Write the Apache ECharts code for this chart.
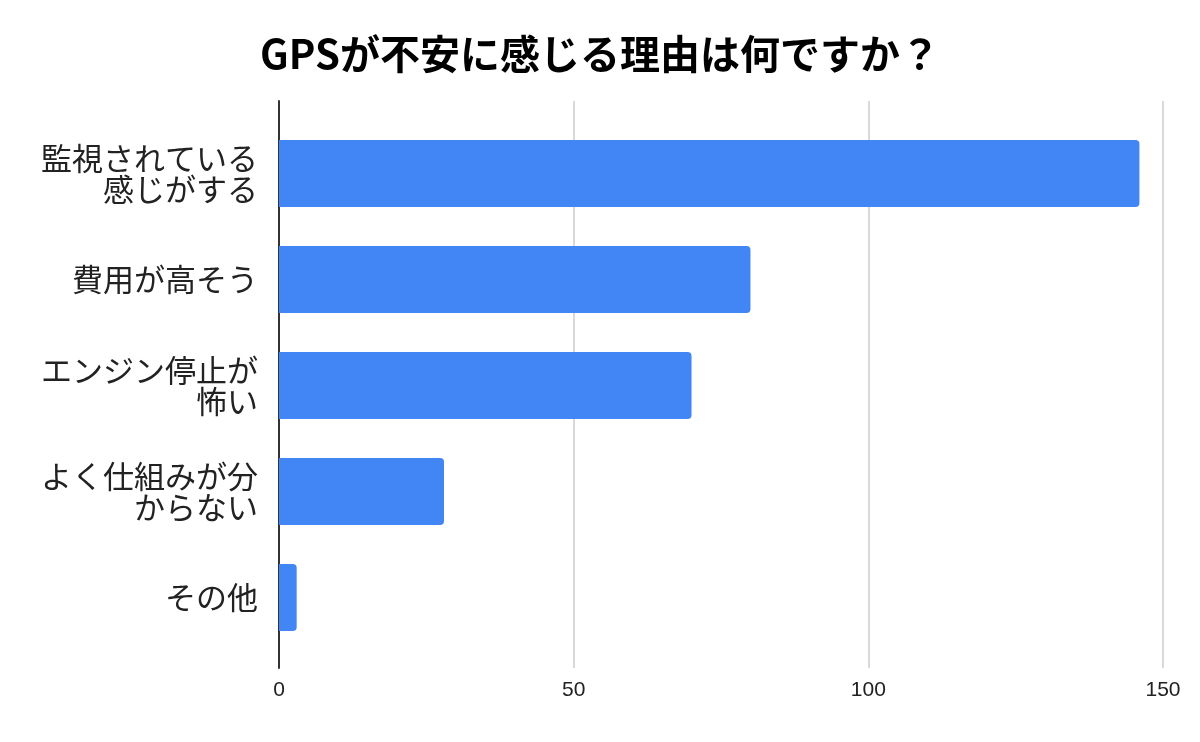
<!DOCTYPE html>
<html>
<head>
<meta charset="utf-8">
<script src="https://cdn.jsdelivr.net/npm/echarts@6/dist/echarts.min.js"></script>
<style>html,body{margin:0;padding:0;background:#fff}#c{width:1200px;height:742px}</style>
</head>
<body>
<div id="c"></div>
<script>
const titleText = 'GPSが不安に感じる理由は何ですか？';
const categories = ['監視されている\n感じがする', '費用が高そう', 'エンジン停止が\n怖い', 'よく仕組みが分\nからない', 'その他'];
const values = [146, 80, 70, 28, 3];
const xMin = 0, xMax = 150, xInterval = 50;

const chart = echarts.init(document.getElementById('c'));
chart.setOption({
  animation: false,
  backgroundColor: '#ffffff',
  title: {
    text: titleText, left: 'center', top: 29,
    textStyle: { fontFamily: 'Noto Sans CJK JP', fontWeight: 'bold', fontSize: 40, color: '#000' }
  },
  grid: [
    { left: 279, right: 37, top: 120.5, height: 530, containLabel: false },
    { left: 279, right: 37, top: 101, height: 567, containLabel: false }
  ],
  xAxis: [
    { gridIndex: 0, type: 'value', min: xMin, max: xMax, interval: xInterval, show: false },
    { gridIndex: 1, type: 'value', min: xMin, max: xMax, interval: xInterval,
      axisLine: { show: false }, axisTick: { show: false },
      splitLine: { show: true, lineStyle: { color: '#cccccc', width: 1.5 } },
      axisLabel: { margin: 12, fontSize: 21, color: '#222', fontFamily: 'Liberation Sans, Arial' } }
  ],
  yAxis: [
    { gridIndex: 0, type: 'category', data: categories, inverse: true,
      axisLine: { show: false }, axisTick: { show: false }, splitLine: { show: false },
      axisLabel: { margin: 21, fontSize: 31, lineHeight: 31, color: '#222', fontFamily: 'Noto Sans CJK JP' } },
    { gridIndex: 1, type: 'value', min: 0, max: 1,
      axisLine: { show: true, onZero: false, lineStyle: { color: '#333', width: 2 } },
      axisTick: { show: false }, axisLabel: { show: false }, splitLine: { show: false } }
  ],
  series: [{
    type: 'bar', xAxisIndex: 0, yAxisIndex: 0, data: values, barWidth: 67,
    itemStyle: { color: '#4285F4', borderRadius: [0, 4, 4, 0] }, z: 3
  }]
});
</script>
</body>
</html>
